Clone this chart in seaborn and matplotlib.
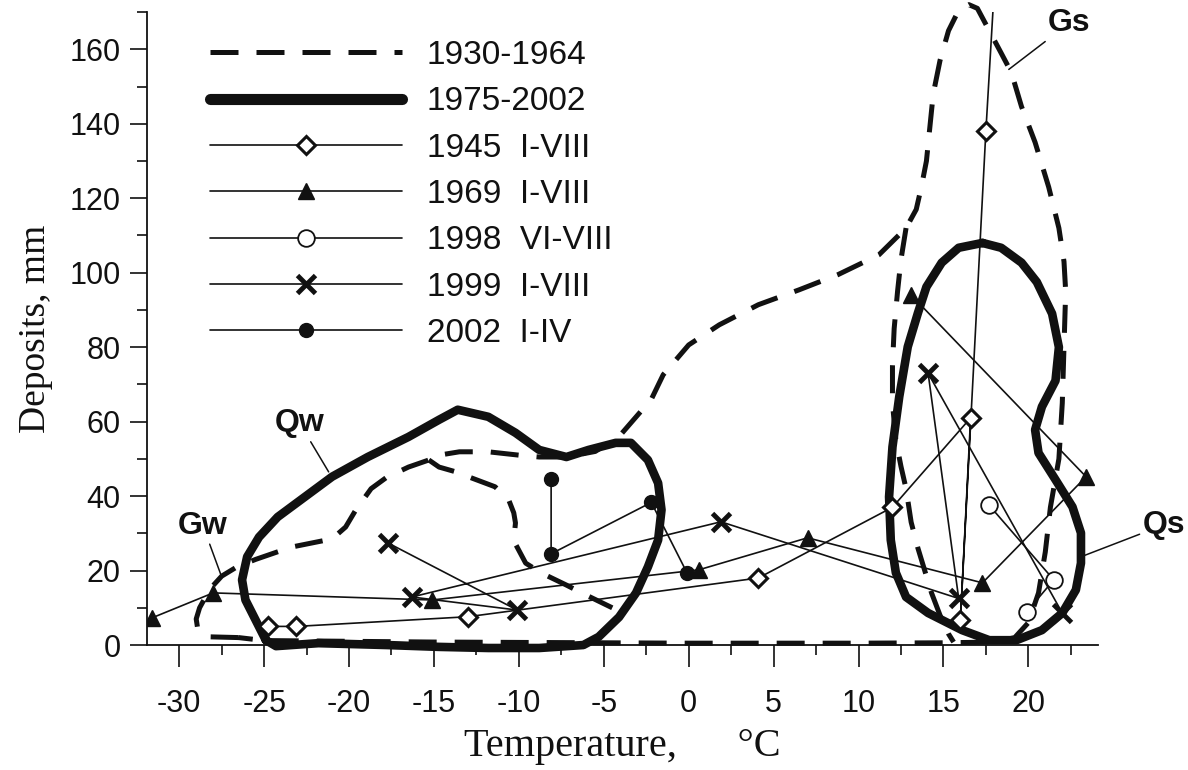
import matplotlib
matplotlib.use("Agg")
import matplotlib.pyplot as plt
import seaborn as sns
from matplotlib.lines import Line2D
from matplotlib.ticker import MultipleLocator

sns.set_theme(style="ticks")
plt.rcParams['font.family'] = ['Liberation Sans', 'DejaVu Sans']

# ---------------- data ----------------
# 1930-1964 envelope (dashed), outer contour
g_out_t = [-26.5, -28.2, -28.9, -29.0, -28.8, -28.2, -27.5, -26.6, -25.5, -23.4, -22.2, -21.0,
           -20.2, -19.6, -18.7, -17.8, -16.5, -15.3, -14.7, -13.5, -11.8, -10.0, -8.8, -7.2,
           -5.5, -4.1, -2.2, -1.5, 0.0, 1.8, 4.1, 6.5, 8.8, 11.2, 12.8, 13.4, 13.7, 14.0,
           14.2, 14.4, 14.8, 15.3, 15.9, 16.5, 17.0, 17.7, 18.4, 19.0, 19.6, 20.4, 21.2,
           21.8, 22.1, 22.2, 22.1, 22.0, 21.8, 21.3, 21.0, 20.6, 20.0, 19.2, 18.0, 15.0,
           10.0, 5.0, 0.0, -5.0, -15.0, -25.0, -26.5]
g_out_p = [2.0, 2.2, 4.0, 7.0, 10.0, 15.0, 18.5, 21.0, 23.0, 26.3, 27.4, 28.5,
           31.7, 36.3, 42.0, 45.0, 47.8, 49.7, 51.0, 51.9, 51.9, 51.0, 50.5, 50.5,
           52.0, 56.0, 66.0, 72.6, 80.6, 86.0, 91.4, 95.4, 99.5, 104.8, 112.0, 117.0, 123.0, 130.0,
           139.0, 148.0, 157.0, 165.0, 170.5, 172.0, 171.0, 165.0, 159.0, 153.8, 144.6, 135.0, 123.0,
           112.0, 103.0, 95.0, 80.0, 65.0, 50.0, 37.0, 25.0, 14.0, 6.0, 2.0, 0.8, 0.6,
           0.5, 0.5, 0.5, 0.6, 0.8, 1.2, 2.0]
# 1930-1964 inner branch of summer contour
g_sum_t = [12.8, 12.5, 12.3, 12.1, 12.0, 12.0, 12.2, 12.5, 12.8, 13.1, 13.5, 13.9, 14.3, 14.8, 15.3, 15.6]
g_sum_p = [112.0, 103.5, 95.0, 85.0, 75.0, 65.0, 55.0, 48.0, 42.0, 33.0, 26.0, 20.0, 14.0, 8.0, 3.0, 0.8]
# 1930-1964 inner branch of winter contour
g_win_t = [-15.3, -14.7, -13.7, -12.8, -11.4, -10.6, -10.3, -10.2, -10.3, -9.6, -8.7, -7.2, -6.3, -4.5]
g_win_p = [49.7, 47.8, 46.5, 44.9, 42.5, 39.0, 35.5, 32.8, 28.0, 22.0, 19.4, 16.1, 14.0, 10.0]

# 1975-2002 envelopes (thick solid)
qw_t = [-24.9, -26.1, -26.3, -26.0, -25.3, -24.2, -22.6, -21.0, -18.9, -16.5, -14.7, -13.6,
        -11.8, -10.2, -8.8, -7.2, -5.9, -4.3, -3.4, -2.4, -1.8, -1.6, -1.8, -2.4, -3.1,
        -4.1, -5.3, -6.2, -8.8, -11.8, -14.7, -17.8, -21.8, -24.3, -24.9]
qw_p = [1.3, 12.1, 17.5, 23.7, 29.0, 34.4, 39.8, 45.2, 50.5, 55.9, 60.5, 63.2,
        61.3, 57.0, 52.4, 50.5, 52.4, 54.3, 54.3, 49.7, 43.5, 36.3, 28.2, 21.0, 14.0,
        7.5, 2.2, 0.0, -0.8, -0.8, -0.5, 0.0, 0.5, -0.3, 1.3]
qs_t = [17.3, 18.4, 19.6, 20.5, 21.4, 21.8, 21.6, 20.8, 20.4, 20.6, 21.6, 22.6, 23.1, 23.1,
        22.8, 22.0, 20.8, 19.3, 17.7, 16.1, 14.1, 12.8, 12.2, 11.9, 11.8, 12.0, 12.4, 12.9,
        13.5, 14.0, 14.9, 15.9, 17.3]
qs_p = [108.0, 106.7, 102.7, 97.5, 89.0, 80.0, 71.0, 64.0, 57.8, 51.6, 44.4, 37.1, 30.1, 22.0,
        14.8, 8.6, 4.0, 1.3, 1.3, 4.0, 8.6, 12.9, 19.4, 28.2, 39.8, 53.2, 66.7, 80.1,
        89.2, 96.2, 102.7, 106.7, 108.0]

# point series (temperature, deposits)
t1945 = [-24.8, -23.1, -13.0, 4.1, 12.0, 16.6, 16.0, 17.5, 18.3]
p1945 = [5.0, 5.0, 7.6, 18.0, 37.0, 61.0, 6.7, 138.0, 200.0]
t1969 = [-31.6, -28.0, -15.1, 0.6, 7.0, 17.3, 23.4, 13.1]
p1969 = [7.3, 14.0, 12.1, 20.2, 28.8, 16.7, 45.2, 94.0]
t1998 = [17.7, 21.5, 19.9]
p1998 = [37.5, 17.5, 8.9]
t1999 = [-17.7, -10.1, -16.3, 1.9, 15.9, 14.1, 22.0]
p1999 = [27.4, 9.4, 12.9, 33.1, 12.5, 73.0, 8.6]
t2002 = [-8.1, -8.1, -2.2, -0.1]
p2002 = [44.7, 24.5, 38.3, 19.4]

legend_labels = ["1930-1964", "1975-2002", "1945  I-VIII", "1969  I-VIII",
                 "1998  VI-VIII", "1999  I-VIII", "2002  I-IV"]
x_ticks = [-30, -25, -20, -15, -10, -5, 0, 5, 10, 15, 20]
y_ticks = [0, 20, 40, 60, 80, 100, 120, 140, 160]

# ---------------- plot ----------------
INK = "#111111"
fig = plt.figure(figsize=(11.88, 7.7), dpi=100)
fig.patch.set_facecolor("white")
ax = fig.add_axes([0.1237, 0.1623, 0.8005, 0.822])
ax.set_facecolor("white")

DASH = (0, (5.6, 3.6))
env_dash = dict(color=INK, linewidth=3.6, linestyle=DASH, clip_on=False, zorder=2)
env_solid = dict(color=INK, linewidth=6.2, clip_on=False, zorder=2,
                 solid_joinstyle="round", solid_capstyle="round")


def draw(x, y, **kw):
    sns.lineplot(x=x, y=y, sort=False, estimator=None, ax=ax, legend=False, **kw)


draw(g_out_t, g_out_p, **env_dash)
draw(g_sum_t, g_sum_p, **env_dash)
draw(g_win_t, g_win_p, **env_dash)
draw(qw_t, qw_p, **env_solid)
draw(qs_t, qs_p, **env_solid)

thin = dict(color=INK, linewidth=1.2, zorder=4)
draw(t1945, p1945, marker="D", markersize=9, markerfacecolor="white",
     markeredgecolor=INK, markeredgewidth=2.2, **thin)
draw(t1969, p1969, marker="^", markersize=12, markerfacecolor=INK,
     markeredgecolor=INK, markeredgewidth=1, **thin)
draw(t1998, p1998, marker="o", markersize=12, markerfacecolor="white",
     markeredgecolor=INK, markeredgewidth=1.3, **thin)
draw(t1999, p1999, marker="x", markersize=13, markerfacecolor=INK,
     markeredgecolor=INK, markeredgewidth=3.5, **thin)
draw(t2002, p2002, marker="o", markersize=10, markerfacecolor=INK,
     markeredgecolor=INK, markeredgewidth=1, **thin)

ax.set_xlim(-31.9, 24.1)
ax.set_ylim(0, 170)

# annotations
lab_font = dict(fontsize=23, fontweight="bold", color=INK)
arrow = dict(arrowstyle="-", color=INK, lw=1.1, shrinkA=0, shrinkB=0)
ax.annotate("Qw", xy=(-21.2, 46.5), xytext=(-22.9, 59.5), ha="center", va="center",
            arrowprops=arrow, **lab_font)
ax.annotate("Gw", xy=(-27.5, 18.3), xytext=(-28.6, 32.0), ha="center", va="center",
            arrowprops=arrow, **lab_font)
ax.annotate("Gs", xy=(18.85, 154.6), xytext=(22.4, 167.0), ha="center", va="center",
            arrowprops=arrow, annotation_clip=False, **lab_font)
ax.annotate("Qs", xy=(23.1, 23.7), xytext=(28.0, 32.3), ha="center", va="center",
            arrowprops=arrow, annotation_clip=False, **lab_font)

# axes style
for s in ["top", "right"]:
    ax.spines[s].set_visible(False)
for s in ["left", "bottom"]:
    ax.spines[s].set_color(INK)
    ax.spines[s].set_linewidth(1.3)
ax.set_xticks(x_ticks)
ax.set_xticklabels([str(v) for v in x_ticks])
ax.set_yticks(y_ticks)
ax.set_yticklabels([str(v) for v in y_ticks])
ax.xaxis.set_minor_locator(MultipleLocator(2.5))
ax.yaxis.set_minor_locator(MultipleLocator(10))
ax.tick_params(axis="x", which="major", direction="out", length=16, width=1.2,
               pad=16, labelsize=22, colors=INK)
ax.tick_params(axis="x", which="minor", direction="out", length=7, width=1.2, colors=INK)
ax.tick_params(axis="y", which="major", direction="out", length=12, width=1.2,
               pad=7, labelsize=22, colors=INK)
ax.tick_params(axis="y", which="minor", direction="out", length=7, width=1.2, colors=INK)
ax.grid(False)

serif = ["Liberation Serif", "DejaVu Serif"]
ax.set_xlabel("Temperature,      \u00b0C", fontsize=29, family=serif, color=INK, labelpad=6)
ax.set_ylabel("Deposits, mm", fontsize=27, family=serif, color=INK, labelpad=12)

# legend
handles = [
    Line2D([], [], color=INK, linewidth=3.6, linestyle=DASH),
    Line2D([], [], color=INK, linewidth=8.0),
    Line2D([], [], color=INK, linewidth=1.2, marker="D", markersize=9,
           markerfacecolor="white", markeredgecolor=INK, markeredgewidth=2.2),
    Line2D([], [], color=INK, linewidth=1.2, marker="^", markersize=12,
           markerfacecolor=INK, markeredgecolor=INK),
    Line2D([], [], color=INK, linewidth=1.2, marker="o", markersize=12,
           markerfacecolor="white", markeredgecolor=INK, markeredgewidth=1.3),
    Line2D([], [], color=INK, linewidth=1.2, marker="x", markersize=13,
           markeredgecolor=INK, markeredgewidth=3.5),
    Line2D([], [], color=INK, linewidth=1.2, marker="o", markersize=10,
           markerfacecolor=INK, markeredgecolor=INK),
]
leg = ax.legend(handles, legend_labels, loc="upper left",
                bbox_to_anchor=(210 / 1188, 1 - 40 / 770), bbox_transform=fig.transFigure,
                frameon=False, fontsize=24, handlelength=5.75, handletextpad=0.75,
                labelspacing=0.46, borderpad=0, borderaxespad=0, markerscale=1.0)
for t in leg.get_texts():
    t.set_color(INK)

fig.savefig("out.png", dpi=100, facecolor="white")
